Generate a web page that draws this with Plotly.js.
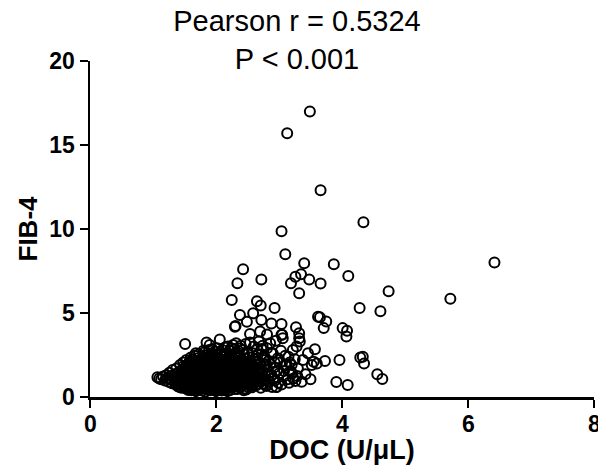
<!DOCTYPE html>
<html>
<head>
<meta charset="utf-8">
<script src="https://cdn.plot.ly/plotly-3.0.1.min.js"></script>
<style>html,body{margin:0;padding:0;background:#fff;overflow:hidden;width:598px;height:474px;}#chart{width:612px;height:474px;}</style>
</head>
<body>
<div id="chart"></div>
<script>
// Tick labels
const xTickVals = [0, 2, 4, 6, 8];
const xTickText = ["0", "2", "4", "6", "8"];
const yTickVals = [0, 5, 10, 15, 20];

// Dense core of the cloud (DOC, FIB-4)
const docCore = [
  1.07,1.10,1.13,1.16,1.19,1.21,1.23,1.25,1.26,1.28,1.29,1.30,1.31,1.33,1.34,
  1.35,1.36,1.37,1.38,1.39,1.40,1.41,1.42,1.43,1.44,1.45,1.46,1.46,1.47,1.48,1.49,1.50,1.50,1.51,1.51,
  1.52,1.52,1.53,1.53,1.54,1.54,1.55,1.55,1.56,1.56,
  1.57,1.57,1.58,1.58,1.59,1.59,1.60,1.60,1.61,1.61,1.62,1.62,1.63,1.63,1.64,1.64,1.65,1.65,1.66,1.66,
  1.67,1.67,1.68,1.68,1.69,1.69,1.70,1.70,1.71,1.71,1.72,1.72,1.73,1.73,1.74,1.74,1.75,1.75,1.62,1.66,
  1.70,1.64,1.68,1.72,1.58,
  1.76,1.76,1.77,1.77,1.78,1.78,1.79,1.79,1.80,1.80,1.81,1.81,1.82,1.82,1.83,1.83,1.84,1.84,1.85,1.85,
  1.85,1.86,1.86,1.87,1.87,1.88,1.88,1.89,1.89,1.90,1.90,1.90,1.91,1.91,1.92,1.92,1.93,1.93,1.94,1.94,
  1.95,1.95,1.78,1.82,1.86,1.80,1.88,1.84,1.92,1.76,1.90,1.94,1.83,1.87,1.79,
  1.96,1.96,1.97,1.97,1.98,1.98,1.99,1.99,2.00,2.00,2.01,2.01,2.02,2.02,2.03,2.03,2.04,2.04,2.05,2.05,
  2.06,2.06,2.07,2.07,2.08,2.08,2.09,2.09,2.10,2.10,2.11,2.11,2.12,2.12,2.13,2.13,2.14,2.14,2.15,2.15,
  1.98,2.02,2.06,2.00,2.04,2.08,2.12,1.96,2.10,2.14,2.00,2.06,2.03,2.09,2.13,
  2.16,2.16,2.17,2.17,2.18,2.18,2.19,2.19,2.20,2.20,2.21,2.21,2.22,2.22,2.23,2.23,2.24,2.24,2.25,2.25,
  2.26,2.26,2.27,2.27,2.28,2.28,2.29,2.29,2.30,2.30,2.31,2.31,2.32,2.32,2.33,2.33,2.34,2.34,2.35,2.35,
  2.18,2.22,2.26,2.20,2.30,2.24,2.28,2.32,2.16,2.34
];
const fibCore = [
  1.18,1.10,1.05,1.22,0.98,1.30,1.12,0.90,1.45,1.02,1.25,0.82,1.60,1.15,0.95,
  1.35,0.75,1.70,1.05,1.25,0.62,1.48,0.88,1.90,1.12,0.55,1.62,1.30,0.98,2.05,0.70,1.42,1.18,3.15,0.85,
  1.78,0.50,1.05,2.20,1.55,0.65,1.28,0.92,1.95,0.42,
  1.48,0.78,2.10,1.15,0.55,1.70,0.95,2.35,1.32,0.40,1.85,0.68,1.05,2.22,1.55,0.85,0.48,1.95,1.22,2.45,
  0.72,1.65,1.02,0.35,2.05,1.40,0.60,1.78,0.90,2.30,1.18,0.45,1.60,2.55,0.80,1.30,2.00,0.52,1.10,0.92,
  1.25,1.75,2.60,1.95,1.90,
  1.45,0.70,2.15,1.05,0.38,1.75,2.40,0.95,1.25,0.55,1.90,2.65,0.78,1.55,1.10,0.32,2.25,1.35,0.62,3.25,
  1.70,0.88,2.50,1.20,0.45,2.05,1.50,0.72,2.80,3.10,1.02,1.85,0.40,2.35,1.30,0.60,1.65,2.60,0.85,1.12,
  2.15,0.50,1.15,2.00,1.40,2.75,0.98,0.50,1.95,1.95,1.45,2.85,1.80,2.30,0.65,
  1.40,0.75,2.45,1.08,0.42,1.80,2.70,0.95,1.25,0.35,2.10,1.58,0.65,2.90,1.15,1.92,0.48,2.35,1.35,0.82,
  3.43,1.70,2.55,1.00,0.55,2.15,1.48,0.38,2.80,1.22,0.72,1.85,2.40,1.05,0.50,1.62,2.95,1.30,0.88,2.20,
  1.55,1.40,0.70,1.95,1.08,1.85,1.50,2.20,0.98,0.60,2.55,2.05,0.92,2.62,2.05,
  1.55,0.45,2.60,1.12,0.70,1.95,3.00,1.38,0.55,2.30,1.05,1.75,2.75,0.40,1.25,2.10,0.85,1.60,2.50,1.00,
  0.58,1.88,3.10,1.35,0.75,2.25,1.15,2.85,0.48,1.70,2.40,0.95,1.45,3.20,0.65,2.05,1.25,2.65,0.80,1.90,
  1.50,1.20,2.30,0.92,2.10,2.90,1.60,0.88,2.10,1.55
];

// Extra filling of the densest part
const docFill = [
  1.38,1.40,1.42,1.44,1.46,1.48,1.50,1.52,1.54,1.56,1.58,1.60,1.62,1.64,1.66,1.68,1.70,1.72,1.74,1.76,
  1.78,1.80,1.82,1.84,1.86,1.88,1.90,1.92,1.94,1.96,1.98,2.00,2.02,2.04,2.06,2.08,2.10,2.12,2.14,2.16,
  2.18,2.20,2.22,2.24,2.26,2.28,2.30,2.32,2.34,2.36,2.38,2.40,2.42,2.44,2.46,2.48,2.50,2.52,2.54,2.56,
  1.45,1.49,1.53,1.57,1.61,1.65,1.69,1.73,1.77,1.81,1.85,1.89,1.93,1.97,2.01,2.05,2.09,2.13,2.17,2.21,
  2.25,2.29,2.33,2.37,2.41,2.45,2.49,2.53,2.57,2.61,1.43,1.47,1.51,1.55,1.59,1.63,1.67,1.71,1.75,1.79,
  1.83,1.87,1.91,1.95,1.99,2.03,2.07,2.11,2.15,2.19,2.23,2.27,2.31,2.35,2.39,2.43,2.47,2.51,2.55,2.59
];
const fibFill = [
  0.95,1.15,1.32,0.72,0.85,1.52,0.58,1.22,1.90,1.08,0.62,1.62,0.48,1.35,1.52,0.62,2.15,0.75,1.82,1.20,
  0.50,1.60,1.28,0.95,2.05,0.58,1.65,0.82,1.48,0.55,2.00,0.80,1.72,1.58,0.45,1.25,1.68,0.75,1.80,0.98,
  0.35,1.45,1.92,0.62,1.42,0.95,1.25,2.35,0.48,1.80,1.38,0.65,1.58,2.10,1.10,0.45,1.90,0.75,1.55,0.85,
  1.05,1.85,0.75,1.25,2.05,1.10,0.85,1.42,1.62,0.68,1.15,1.32,1.05,1.72,0.50,1.95,1.10,1.38,1.85,0.62,
  1.25,1.92,1.05,0.78,1.20,1.75,0.95,1.42,1.95,1.05,0.60,1.22,1.65,0.62,1.42,0.90,1.88,1.58,0.90,1.35,
  2.15,0.80,1.18,1.85,1.22,2.25,1.38,0.45,1.62,1.20,0.85,1.58,0.70,2.10,1.55,0.88,1.92,1.30,0.65,1.50
];

// Looser right-hand part of the cloud
const docSpread = [
  2.36,2.37,2.38,2.38,2.39,2.40,2.40,2.41,2.42,2.42,2.43,2.44,2.45,2.45,2.46,2.47,2.48,2.48,2.49,2.50,
  2.50,2.51,2.52,2.53,2.54,2.54,2.55,2.56,2.57,2.58,2.58,2.59,2.60,2.60,2.44,2.52,2.40,2.56,2.46,2.38,
  2.62,2.63,2.64,2.65,2.66,2.67,2.68,2.69,2.70,2.71,2.72,2.73,2.74,2.75,2.76,2.77,2.78,2.80,2.81,2.82,
  2.84,2.85,2.86,2.88,2.89,2.90,2.92,2.94,2.95,2.96,2.98,3.00,2.66,2.72,2.78,
  3.02,3.04,3.05,3.06,3.07,3.10,3.12,3.15,3.16,3.18,3.20,3.22,3.23,3.26,3.28,3.30,3.32,3.32,3.33,3.36,
  3.38,3.42,3.46,3.50,3.55,
  2.62,2.64,2.66,2.68,2.70,2.72,2.74,2.76,2.78,2.80,2.83,2.86,2.88,2.91,2.93,2.97,2.99,3.03,3.08,3.14,
  3.17,3.21,3.25,3.29
];
const fibSpread = [
  1.10,2.45,0.55,1.65,3.05,0.90,2.20,1.35,2.80,0.70,1.85,1.05,2.55,0.50,1.50,3.15,0.85,2.05,1.25,2.70,
  0.62,1.70,1.02,2.35,0.78,3.25,1.40,2.00,0.58,1.15,2.60,1.80,0.95,3.00,0.40,1.95,1.95,1.25,2.30,2.90,
  1.35,2.25,0.70,2.85,1.65,0.95,3.30,2.00,1.15,0.55,2.55,1.45,3.05,0.80,1.85,2.40,1.05,0.65,2.90,1.60,
  2.15,0.90,3.20,1.30,0.60,2.60,1.75,1.00,3.35,0.60,2.30,1.40,2.50,0.95,1.30,
  2.05,0.75,3.70,3.50,1.20,2.45,1.90,2.40,0.85,1.55,1.90,2.80,1.10,0.95,3.00,1.70,3.80,3.50,3.30,0.91,
  2.20,1.35,2.60,1.05,2.10,
  1.80,1.20,2.10,0.80,1.60,2.85,1.30,2.20,0.72,1.95,1.25,1.95,2.60,1.10,2.05,1.55,0.85,2.75,1.55,1.05,
  2.05,1.40,2.25,1.25
];

// Scattered high / outlying values
const docHigh = [
  3.49,3.13,3.66,4.34,3.04,3.10,3.40,3.87,2.43,4.10,
  3.35,3.26,3.48,3.19,3.66,2.34,2.72,3.32,4.74,2.25,
  2.65,2.71,2.93,4.28,4.61,6.42,5.72,3.65,3.75,3.71,
  4.01,4.08,4.07,3.73,3.96,4.29,4.33,4.35,4.56,4.64,
  3.91,4.09,2.38,2.59,2.49,2.30,2.31,2.72,2.88,3.04,
  3.62,3.27,2.54,2.70,2.81,3.04,3.57,3.60,3.52,3.10,2.96
];
const fibHigh = [
  17.0,15.7,12.3,10.4,9.86,8.5,7.96,7.9,7.6,7.2,
  7.3,7.16,7.0,6.77,6.75,6.77,7.0,6.17,6.3,5.77,
  5.7,5.45,5.3,5.3,5.1,8.0,5.85,4.74,4.5,4.1,
  4.1,3.95,3.6,2.14,2.2,2.35,2.4,2.0,1.35,1.07,
  0.89,0.71,4.88,4.98,4.48,4.18,4.22,4.58,4.38,4.35,
  4.78,4.15,3.75,3.90,3.72,3.70,2.84,2.0,1.9,1.9,0.6
];

const docAll = docCore.concat(docFill, docSpread, docHigh);
const fibAll = fibCore.concat(fibFill, fibSpread, fibHigh);

const FONT = "Liberation Sans, Arial, Helvetica, sans-serif";

const trace = {
  type: "scatter",
  mode: "markers",
  x: docAll,
  y: fibAll,
  marker: {
    symbol: "circle-open",
    size: 10,
    color: "#000",
    line: { color: "#000", width: 2 }
  },
  hoverinfo: "none"
};

const FIG_W = 612;

// x tick labels placed at the axis values by the x scale
const xLabelAnnotations = xTickVals.map((v, i) => ({
  x: v,
  xref: "x",
  y: 0,
  yref: "paper",
  yanchor: "top",
  xanchor: "center",
  yshift: -12,
  showarrow: false,
  text: "<b>" + xTickText[i] + "</b>",
  font: { family: FONT, size: 23, color: "#000" }
}));

const layout = {
  width: FIG_W,
  height: 474,
  margin: { l: 90, r: FIG_W - 594, t: 61, b: 77, pad: 0 },
  paper_bgcolor: "#fff",
  plot_bgcolor: "#fff",
  showlegend: false,
  title: {
    text: "Pearson r = 0.5324<br>P &lt; 0.001",
    font: { family: FONT, size: 29, color: "#000" },
    x: 297 / FIG_W,
    xref: "container",
    xanchor: "center",
    y: 0.935,
    yref: "container",
    yanchor: "top"
  },
  annotations: xLabelAnnotations,
  xaxis: {
    range: [0, 8],
    tickmode: "array",
    tickvals: xTickVals,
    showticklabels: false,
    ticks: "outside",
    ticklen: 8,
    tickwidth: 2.5,
    tickcolor: "#000",
    showline: true,
    linewidth: 2.5,
    linecolor: "#000",
    showgrid: false,
    zeroline: false,
    title: {
      text: "<b>DOC (U/μL)</b>",
      font: { family: FONT, size: 27, color: "#000" },
      standoff: 34
    }
  },
  yaxis: {
    range: [0, 20],
    tickmode: "array",
    tickvals: yTickVals,
    tickfont: { family: FONT, size: 23, color: "#000", weight: "bold" },
    ticks: "outside",
    ticklen: 8,
    tickwidth: 2.5,
    tickcolor: "#000",
    showline: true,
    linewidth: 2.5,
    linecolor: "#000",
    showgrid: false,
    zeroline: false,
    title: {
      text: "<b>FIB-4</b>",
      font: { family: FONT, size: 26, color: "#000" },
      standoff: 4
    }
  }
};

Plotly.newPlot("chart", [trace], layout, { staticPlot: true, displayModeBar: false });
</script>
</body>
</html>
